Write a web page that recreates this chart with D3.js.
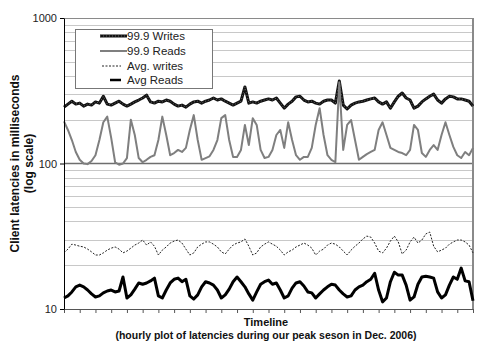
<!DOCTYPE html>
<html>
<head>
<meta charset="utf-8">
<script src="https://cdn.jsdelivr.net/npm/d3@7"></script>
<style>
  body { margin: 0; background: #fff; }
  svg { display: block; font-family: "Liberation Sans", Arial, sans-serif; }
</style>
</head>
<body>
<div id="chart"></div>
<script>
// samples every 3 hours, ticks every 12 hours
const stepHours = 3;
const tickHours = [0, 12, 24, 36, 48, 60, 72, 84, 96, 108, 120, 132, 144, 156, 168, 180, 192, 204, 216, 228, 240, 252, 264, 276, 288, 300, 312];
const yTicks = [10, 100, 1000];
const seriesNames = ['99.9 Writes', '99.9 Reads', 'Avg. writes', 'Avg Reads'];

const writes999 = [244,256,268,256,260,248,256,252,265,260, 290,256,252,260,268,256,248,256,265,273,
  282,295,265,260,268,265,273,268,256,248, 252,244,256,265,268,260,268,273,282,273,
  278,268,260,252,260,268,336,260,265,260, 268,273,278,273,282,260,240,256,268,287,
  290,273,265,268,260,256,268,273,273,260, 369,252,237,252,260,265,268,273,278,282,
  265,256,265,240,265,290,305,282,273,240, 248,265,278,290,300,273,260,278,290,287,
  278,278,273,268,248];

const reads999 = [195,170,145,120,106,100,99,104,114,145, 192,210,150,102,98,100,109,200,157,109,
  102,106,111,114,145,210,157,114,118,124, 120,128,170,215,145,106,109,112,124,145,
  205,215,145,111,111,124,184,134,205,184, 124,109,111,124,157,170,128,192,145,114,
  106,111,111,128,184,240,157,114,106,102, 360,124,184,199,145,106,111,116,120,124,
  170,192,157,128,124,120,118,114,124,184, 170,118,111,124,134,124,157,192,157,130,
  114,109,120,114,128];

const avgWrites = [24.3,25.8,27.9,27.5,27,26.7,25.8,24.7,23.5,23.5, 24.3,25.4,26.2,26.7,25.8,24.3,25,26.2,27.5,28.4,
  29.8,27.5,28.9,27,23.5,25.4,26.7,28.4,29.3,29.8, 28.4,25.8,23.5,24.3,26.7,27.9,28.9,28.9,27.9,26.7,
  24.7,23.9,25.8,27.5,28.4,28.9,30.3,27,23.5,24.3, 26.7,27.9,28.9,27.9,27,25.4,23.5,24.7,25.4,26.7,
  27.5,28.4,27.5,26.2,23.5,25,25.8,27.5,28.4,27.9, 26.7,25,23.5,25.4,27,28.4,30.3,31.7,31.2,28.4,
  25,24.3,26.2,29.3,31.7,28.9,23.9,25.4,28.9,31.2, 28.4,29.8,32.8,33.8,27,24.7,25.4,26.2,27.9,28.9,
  29.8,29.8,28.9,27.5,24.3];

const avgReads = [11.9,12.3,13.1,14.2,14.6,14.2,13.5,12.7,12.1,12.3, 12.9,13.3,13.5,13.1,13.3,16.6,11.9,12.5,13.7,15.1,
  14.8,15.1,15.6,16.3,12.3,11.9,13.5,15.1,16,16.3, 15.4,16,12.3,11.7,12.5,14.2,15.4,15.1,14.6,13.5,
  11.9,12.5,13.7,15.4,16.6,15.4,14.2,12.7,11.5,13.1, 14.8,15.4,15.8,14.8,15.1,13.5,11.9,12.3,13.9,15.1,
  15.4,14.4,13.1,12.9,11.9,12.7,13.5,14.2,14.8,14.6, 13.5,12.7,12.1,12.3,13.5,14.2,14.6,15.4,16,17.6,
  13.5,11.2,11.9,15.4,17.9,17.1,17.1,14.6,11.5,12.1, 14.8,16.6,16.8,16.6,16.3,13.1,11.9,12.5,14.6,16.6,
  16,19.1,15.6,15.4,11.4];

const seriesData = [writes999, reads999, avgWrites, avgReads];

// line styles per series
const styles = [
  { color: '#111', width: 3, dash: null, texture: true },
  { color: '#7f7f7f', width: 2, dash: null },
  { color: '#222', width: 1, dash: '2,1.5' },
  { color: '#000', width: 3, dash: null }
];

const width = 500, height = 361;
const margin = { top: 18, right: 27, bottom: 52, left: 64 };
const w = width - margin.left - margin.right;
const h = height - margin.top - margin.bottom;

const svg = d3.select('#chart').append('svg')
  .attr('width', width)
  .attr('height', height);

const g = svg.append('g')
  .attr('transform', `translate(${margin.left},${margin.top})`);

const x = d3.scaleLinear()
  .domain([0, d3.max(tickHours)])
  .range([0, w]);

const y = d3.scaleLog()
  .domain([10, 1000])
  .range([h, 0]);

// horizontal gridlines on minor values
const minor = y.ticks().filter(v => yTicks.indexOf(v) < 0);
g.append('g').selectAll('line')
  .data(minor)
  .join('line')
  .attr('x1', 0).attr('x2', w)
  .attr('y1', d => Math.round(y(d)) + 0.5)
  .attr('y2', d => Math.round(y(d)) + 0.5)
  .attr('stroke', '#c8c8c8')
  .attr('stroke-width', 1);

// major gridline at 100 and top border
g.append('line')
  .attr('x1', 0).attr('x2', w)
  .attr('y1', y(100)).attr('y2', y(100))
  .attr('stroke', '#6e6e6e').attr('stroke-width', 1.3);
g.append('line')
  .attr('x1', 0).attr('x2', w)
  .attr('y1', y(1000) + 0.5).attr('y2', y(1000) + 0.5)
  .attr('stroke', '#8a8a8a').attr('stroke-width', 1);
g.append('line')
  .attr('x1', w).attr('x2', w)
  .attr('y1', y(1000)).attr('y2', h)
  .attr('stroke', '#8a8a8a').attr('stroke-width', 2);

// series lines
const line = d3.line()
  .x((d, i) => x(i * stepHours))
  .y(d => y(d));

seriesData.forEach((data, k) => {
  const s = styles[k];
  g.append('path')
    .datum(data)
    .attr('fill', 'none')
    .attr('stroke', s.color)
    .attr('stroke-width', s.width)
    .attr('stroke-linejoin', 'round')
    .attr('stroke-dasharray', s.dash)
    .attr('d', line);
  if (s.texture) {
    g.append('path')
      .datum(data)
      .attr('fill', 'none')
      .attr('stroke', '#fff')
      .attr('stroke-opacity', 0.45)
      .attr('stroke-width', 0.8)
      .attr('stroke-dasharray', '1,2')
      .attr('d', line);
  }
});

// axes
const xAxis = g.append('g')
  .attr('transform', `translate(0,${h})`)
  .call(d3.axisBottom(x).tickValues(tickHours).tickFormat('').tickSize(4).tickSizeOuter(0));
xAxis.select('.domain').attr('stroke', '#555');
xAxis.selectAll('.tick line').attr('stroke', '#555');

const yAxis = g.append('g')
  .call(d3.axisLeft(y).tickValues(yTicks).tickFormat(d3.format('d')).tickSize(4).tickSizeOuter(0));
yAxis.select('.domain').attr('stroke', '#000');
yAxis.selectAll('.tick text')
  .attr('font-size', 11)
  .attr('fill', '#222')
  .attr('font-family', '"Liberation Sans", Arial, sans-serif');

// legend
const legend = g.append('g').attr('transform', 'translate(11,11)');
legend.append('rect')
  .attr('x', 0.5).attr('y', 0.5)
  .attr('width', 137).attr('height', 59)
  .attr('fill', '#fff')
  .attr('stroke', '#777');

const legendRows = [7, 22, 37, 51];
const sampleLen = [[25, 52], [25, 52], [27, 46], [35, 46]];
seriesNames.forEach((name, k) => {
  const s = styles[k];
  const ly = legendRows[k];
  legend.append('line')
    .attr('x1', sampleLen[k][0]).attr('x2', sampleLen[k][1])
    .attr('y1', ly).attr('y2', ly)
    .attr('stroke', s.color)
    .attr('stroke-width', k === 3 ? 2.5 : s.width)
    .attr('stroke-dasharray', s.dash);
  if (s.texture) {
    legend.append('line')
      .attr('x1', sampleLen[k][0]).attr('x2', sampleLen[k][1])
      .attr('y1', ly).attr('y2', ly)
      .attr('stroke', '#fff').attr('stroke-opacity', 0.45)
      .attr('stroke-width', 0.8).attr('stroke-dasharray', '1,2');
  }
  legend.append('text')
    .attr('x', 52)
    .attr('y', ly + 4)
    .attr('font-size', 11.5)
    .attr('fill', '#222')
    .text(name);
});

// axis titles
svg.append('text')
  .attr('transform', `translate(19,${margin.top + h / 2}) rotate(-90)`)
  .attr('text-anchor', 'middle')
  .attr('font-size', 12)
  .attr('font-weight', 'bold')
  .attr('fill', '#111')
  .text('Client latencies in milliseconds');
svg.append('text')
  .attr('transform', `translate(33,${margin.top + h / 2}) rotate(-90)`)
  .attr('text-anchor', 'middle')
  .attr('font-size', 12)
  .attr('font-weight', 'bold')
  .attr('fill', '#111')
  .text('(log scale)');

svg.append('text')
  .attr('x', 266).attr('y', 326)
  .attr('text-anchor', 'middle')
  .attr('font-size', 11)
  .attr('font-weight', 'bold')
  .attr('fill', '#111')
  .text('Timeline');
svg.append('text')
  .attr('x', 266).attr('y', 339)
  .attr('text-anchor', 'middle')
  .attr('font-size', 10.5)
  .attr('font-weight', 'bold')
  .attr('fill', '#111')
  .text('(hourly plot of latencies during our peak seson in Dec. 2006)');
</script>
</body>
</html>
